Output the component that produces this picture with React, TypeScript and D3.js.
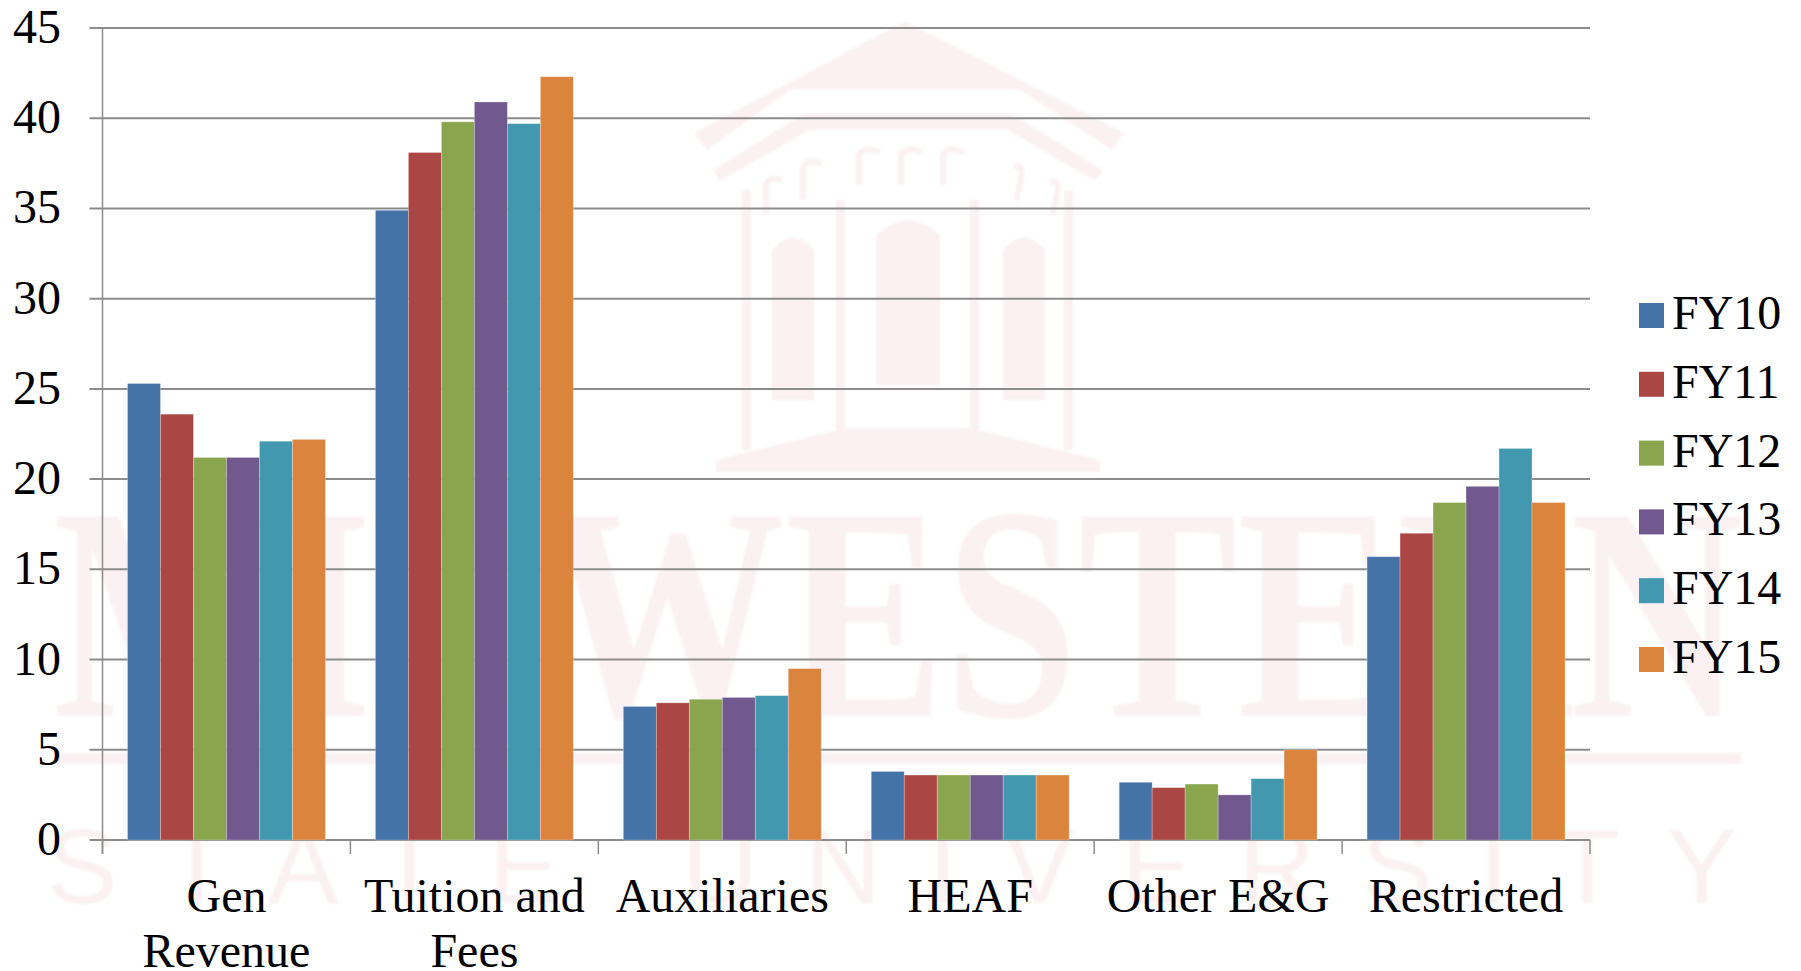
import React from "react";
import * as d3 from "d3";

const categories = [["Gen", "Revenue"], ["Tuition and", "Fees"], ["Auxiliaries"], ["HEAF"], ["Other E&G"], ["Restricted"]];
const seriesNames = ["FY10", "FY11", "FY12", "FY13", "FY14", "FY15"];
const colors = ["#4572a7", "#aa4643", "#89a54e", "#71588f", "#4198af", "#db843d"];
const fy10 = [25.3, 34.9, 7.4, 3.8, 3.2, 15.7];
const fy11 = [23.6, 38.1, 7.6, 3.6, 2.9, 17.0];
const fy12 = [21.2, 39.8, 7.8, 3.6, 3.1, 18.7];
const fy13 = [21.2, 40.9, 7.9, 3.6, 2.5, 19.6];
const fy14 = [22.1, 39.7, 8.0, 3.6, 3.4, 21.7];
const fy15 = [22.2, 42.3, 9.5, 3.6, 5.0, 18.7];
const seriesValues = [fy10, fy11, fy12, fy13, fy14, fy15];
const yTicks = [0, 5, 10, 15, 20, 25, 30, 35, 40, 45];

const FONT = "'Liberation Serif', serif";
const WM = "#fbf1f3";
const GRID = "#8c8c8c";

export default function App() {
  const left = 102.5, right = 1590, top = 28, bottom = 840;
  const y = d3.scaleLinear().domain([0, 45]).range([bottom, top]);
  const x0 = d3.scaleBand<number>().domain(d3.range(6)).range([left, right]).paddingInner(50 / 248).paddingOuter(25 / 248);
  const x1 = d3.scaleBand<number>().domain(d3.range(6)).range([0, x0.bandwidth()]);
  const step = (right - left) / 6;
  return (
    <svg width={1801} height={971} style={{ position: "absolute", left: 0, top: 0, background: "#fff" }}>
      <defs>
        <filter id="soft" x="-5%" y="-5%" width="110%" height="110%">
          <feGaussianBlur stdDeviation="1.2" />
        </filter>
      </defs>
      <g fill={WM} fontFamily={FONT} filter="url(#soft)">
        <text x={898} y={716} textAnchor="middle" fontSize={305} fontWeight={700} textLength={1690} lengthAdjust="spacingAndGlyphs">MIDWESTERN</text>
        <rect x={58} y={753} width={1683} height={11} />
        <text x={892} y={903} textAnchor="middle" fontSize={106} fontFamily="'Liberation Sans', sans-serif" textLength={1690} lengthAdjust="spacing">STATE UNIVERSITY</text>
        <path d="M905 21 L1124 133 L1112 150 L1020 90 L790 90 L707 150 L694 133 Z" />
        <path d="M805 113 L1010 113 L1103 170 L1095 181 L1008 130 L810 130 L720 181 L713 170 Z" />
        <rect x={742} y={190} width={9} height={260} />
        <rect x={836} y={200} width={9} height={230} />
        <rect x={970} y={200} width={9} height={230} />
        <rect x={1064} y={190} width={9} height={260} />
        <path d="M772 250 Q793 225 814 250 L814 400 L772 400 Z" />
        <path d="M876 235 Q908 205 940 235 L940 385 L876 385 Z" />
        <path d="M1003 250 Q1024 225 1045 250 L1045 400 L1003 400 Z" />
        <path d="M845 428 L970 428 L1100 460 L1100 472 L716 472 L716 460 Z" />
        <g fill="none" stroke={WM} strokeWidth={6}>
          <path d="M766 215 L766 185 Q768 176 782 180" />
          <path d="M803 200 L803 168 Q806 158 822 164" />
          <path d="M859 185 L859 155 Q864 146 880 152" />
          <path d="M901 185 L901 155 Q906 146 922 152" />
          <path d="M943 185 L943 155 Q948 146 964 152" />
          <path d="M1014 168 Q1028 158 1016 200" />
          <path d="M1050 182 Q1064 176 1052 215" />
        </g>
      </g>
      <g stroke={GRID} strokeWidth={2}>
        {yTicks.map((t) => (
          <line key={t} x1={left - 13} x2={right} y1={y(t)} y2={y(t)} />
        ))}
        <line x1={left} x2={left} y1={top} y2={bottom + 14} strokeWidth={1.5} />
        {d3.range(7).map((i) => (
          <line key={i} x1={left + i * step} x2={left + i * step} y1={bottom} y2={bottom + 14} strokeWidth={1.5} />
        ))}
      </g>
      {seriesValues.map((vals, s) => (
        <g key={s} fill={colors[s]}>
          {vals.map((v, c) => (
            <rect key={c} x={x0(c)! + x1(s)!} y={y(v)} width={x1.bandwidth()} height={bottom - y(v)} stroke="#ffffff" strokeOpacity={0.35} strokeWidth={0.75} />
          ))}
        </g>
      ))}
      <g fontFamily={FONT} fontSize={48} fill="#000">
        {yTicks.map((t) => (
          <text key={t} x={61} y={y(t) + 15} textAnchor="end">{t}</text>
        ))}
        {categories.map((lines, c) =>
          lines.map((l, i) => (
            <text key={l} x={left + (c + 0.5) * step} y={912 + i * 55} textAnchor="middle">{l}</text>
          ))
        )}
        {seriesNames.map((n, i) => (
          <g key={n}>
            <rect x={1639} y={303 + i * 68.8} width={25} height={25} fill={colors[i]} />
            <text x={1672} y={329 + i * 68.8}>{n}</text>
          </g>
        ))}
      </g>
    </svg>
  );
}
